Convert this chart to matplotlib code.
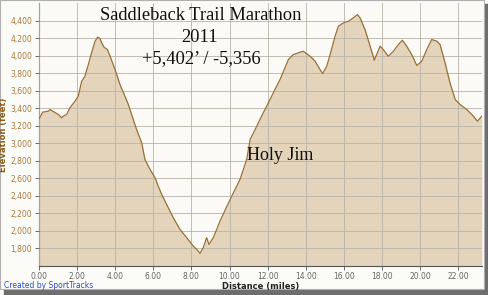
import matplotlib
matplotlib.use("Agg")
import matplotlib.pyplot as plt
from matplotlib.patches import Rectangle

distance_miles = [0.00, 0.02, 0.19, 0.49, 0.58, 0.84, 1.02, 1.19, 1.27, 1.45, 1.62, 1.89, 2.06, 2.24, 2.41,
                  2.59, 2.76, 2.94, 3.08, 3.20, 3.29, 3.41, 3.59, 3.73, 3.99, 4.25, 4.51, 4.69, 4.86, 5.12,
                  5.39, 5.56, 5.83, 6.09, 6.26, 6.44, 6.70, 7.05, 7.40, 7.75, 8.10, 8.36, 8.45, 8.62, 8.80,
                  8.92, 9.15, 9.50, 10.03, 10.55, 10.90, 11.08, 11.43, 11.77, 11.95, 12.30, 12.65, 12.91,
                  13.09, 13.35, 13.61, 13.87, 14.23, 14.49, 14.75, 14.89, 15.10, 15.28, 15.54, 15.71, 15.98,
                  16.24, 16.50, 16.71, 16.85, 17.11, 17.38, 17.60, 17.72, 17.90, 18.07, 18.33, 18.60, 18.86,
                  19.07, 19.30, 19.56, 19.83, 20.09, 20.35, 20.61, 20.88, 21.05, 21.31, 21.57, 21.84, 22.10,
                  22.45, 22.80, 23.01, 23.24]
elevation_feet = [3283, 3283, 3355, 3366, 3385, 3350, 3328, 3290, 3310, 3328, 3405, 3480, 3537, 3708, 3765,
                  3898, 4032, 4164, 4210, 4195, 4146, 4096, 4069, 3993, 3841, 3670, 3537, 3442, 3328, 3157,
                  3006, 2815, 2701, 2607, 2511, 2416, 2302, 2150, 2017, 1923, 1827, 1770, 1744, 1809, 1923,
                  1846, 1923, 2112, 2359, 2587, 2815, 3043, 3195, 3348, 3423, 3576, 3727, 3861,
                  3955, 4012, 4032, 4050, 3993, 3936, 3841, 3796, 3879, 4012, 4221, 4335, 4373,
                  4392, 4431, 4468, 4431, 4297, 4107, 3947, 4012, 4107, 4069, 3993, 4050, 4126,
                  4175, 4107, 4012, 3887, 3936, 4069, 4183, 4164, 4126, 3918, 3690, 3500, 3442,
                  3385, 3309, 3252, 3309]

x_ticks = [0, 2, 4, 6, 8, 10, 12, 14, 16, 18, 20, 22]
y_ticks = [1800, 2000, 2200, 2400, 2600, 2800, 3000, 3200, 3400, 3600, 3800, 4000, 4200, 4400]

title_lines = ["Saddleback Trail Marathon", "2011", "+5,402\u2019 / -5,356"]
annotation = "Holy Jim"

W, H = 489, 295
fig = plt.figure(figsize=(W / 100, H / 100), dpi=100)
fig.patch.set_facecolor("#fbfbf8")

# frame / drop shadow
fig.patches.append(Rectangle((484 / W, 0), 5 / W, 1 - 4 / H, transform=fig.transFigure,
                             color="#6e6e6e", zorder=-3))
fig.patches.append(Rectangle((4 / W, 0), 1 - 4 / W, 6 / H, transform=fig.transFigure,
                             color="#6e6e6e", zorder=-3))
fig.patches.append(Rectangle((0, 6 / H), 484 / W, 1 - 6 / H, transform=fig.transFigure,
                             facecolor="#fbfbf8", edgecolor="#b0b0b0", lw=0.8, zorder=-2))

ax = fig.add_axes([39 / W, 1 - 266 / H, (482 - 39) / W, (266 - 3) / H])
ax.set_facecolor("#fbfaf6")
ax.fill_between(distance_miles, elevation_feet, 1600, color="#e3d4bb", zorder=1, lw=0)
ax.plot(distance_miles, elevation_feet, color="#9a7035", lw=0.9, zorder=3)
ax.set_xlim(0, 23.25)
ax.set_ylim(1600, 4600)
ax.set_xticks(x_ticks)
ax.set_xticklabels([f"{v:.2f}" for v in x_ticks])
ax.set_yticks(y_ticks)
ax.set_yticklabels([f"{v:,}" for v in y_ticks])
ax.grid(True, color="#b9b4a8", lw=0.6, zorder=2)
ax.set_axisbelow(False)
for side in ["top", "right"]:
    ax.spines[side].set_visible(False)
ax.spines["left"].set_color("#555555")
ax.spines["bottom"].set_color("#555555")
ax.spines["left"].set_linewidth(0.8)
ax.spines["bottom"].set_linewidth(0.8)
ax.tick_params(axis="x", labelsize=5.5, colors="#555555", length=3, width=0.6, pad=1.5)
ax.tick_params(axis="y", labelsize=5.5, colors="#555555", length=3, width=0.6, pad=2)
for lbl in ax.get_yticklabels():
    lbl.set_color("#a8793e")
for lbl in ax.get_xticklabels():
    lbl.set_color("#666666")

ax.set_xlabel("Distance (miles)", fontsize=6, fontweight="bold", color="#222222", labelpad=0.5)
ax.set_ylabel("Elevation (feet)", fontsize=6, fontweight="bold", color="#8b5a1a", labelpad=1.5)

serif = "Liberation Serif"
fig.text(201 / W, 1 - 16 / H, title_lines[0], family=serif, fontsize=13.3, ha="center", va="center", color="#111111")
fig.text(200 / W, 1 - 37 / H, title_lines[1], family=serif, fontsize=13.3, ha="center", va="center", color="#111111")
fig.text(201 / W, 1 - 59 / H, title_lines[2], family=serif, fontsize=13.3, ha="center", va="center", color="#111111")
fig.text(247 / W, 1 - 155 / H, annotation, family=serif, fontsize=13, ha="left", va="center", color="#111111")

fig.text(4 / W, 1 - 286 / H, "Created by SportTracks", fontsize=5.5, color="#2a4fc8", ha="left", va="center")

fig.savefig("out.png", dpi=100, facecolor=fig.get_facecolor())
